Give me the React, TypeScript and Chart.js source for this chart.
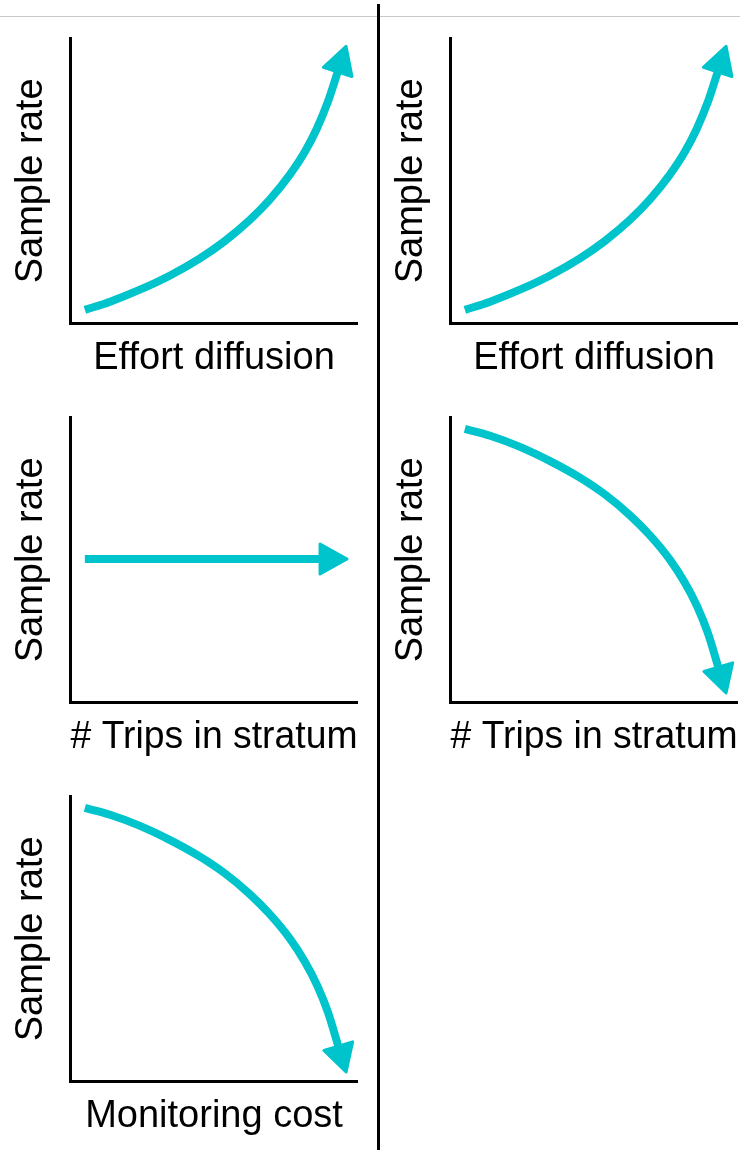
import React, { useEffect, useRef } from "react";
import { Chart, registerables } from "chart.js";

Chart.register(...registerables);

// ---- text ----
const Y_LABEL = "Sample rate";
const X_LABEL_EFFORT = "Effort diffusion";
const X_LABEL_TRIPS = "# Trips in stratum";
const X_LABEL_COST = "Monitoring cost";

// ---- series (axis units 0..10, arbitrary schematic scale) ----
const risingX = [0.5, 1.38, 2.42, 3.47, 4.51, 5.38, 6.25, 6.95, 7.65, 8.17, 8.59, 8.97, 9.32];
const risingY = [0.47, 0.76, 1.18, 1.68, 2.28, 2.89, 3.63, 4.35, 5.23, 6.03, 6.85, 7.78, 8.86];

const flatX = [0.5, 8.73];
const flatY = [5.03, 5.03];

const fallingX = [0.5, 1.38, 2.42, 3.47, 4.51, 5.38, 6.25, 6.95, 7.65, 8.17, 8.59, 8.97, 9.34];
const fallingY = [9.6, 9.36, 8.97, 8.47, 7.89, 7.3, 6.57, 5.86, 5.0, 4.19, 3.38, 2.43, 1.2];

const AXIS_MIN = 0;
const AXIS_MAX = 10;

const CYAN = "#00C4CC";
const FONT = "'Liberation Sans', Arial, Helvetica, sans-serif";

const arrowHeadPlugin = {
  id: "arrowHead",
  afterDatasetsDraw(chart: any) {
    const ctx = chart.ctx;
    chart.data.datasets.forEach((ds: any, i: number) => {
      const meta = chart.getDatasetMeta(i);
      const pts = meta.data;
      if (!pts || pts.length < 2) return;
      const last = pts[pts.length - 1];
      const prev = pts[pts.length - 2];
      let dx = last.x - (last.cp1x ?? prev.x);
      let dy = last.y - (last.cp1y ?? prev.y);
      let len = Math.hypot(dx, dy);
      if (!isFinite(len) || len < 0.5) {
        dx = last.x - prev.x;
        dy = last.y - prev.y;
        len = Math.hypot(dx, dy);
      }
      const ux = dx / len;
      const uy = dy / len;
      const nx = -uy;
      const ny = ux;
      const L = 26;
      const W = 30;
      const bx = last.x - ux * 1;
      const by = last.y - uy * 1;
      ctx.save();
      ctx.fillStyle = ds.borderColor;
      ctx.strokeStyle = ds.borderColor;
      ctx.lineWidth = 3;
      ctx.lineJoin = "round";
      ctx.beginPath();
      ctx.moveTo(last.x + ux * L, last.y + uy * L);
      ctx.lineTo(bx + nx * (W / 2), by + ny * (W / 2));
      ctx.lineTo(bx - nx * (W / 2), by - ny * (W / 2));
      ctx.closePath();
      ctx.fill();
      ctx.stroke();
      ctx.restore();
    });
  },
};

function makeConfig(xs: number[], ys: number[], xLabel: string): any {
  const titleFont = { family: FONT, size: 38, weight: "normal" };
  return {
    type: "line",
    data: {
      datasets: [
        {
          data: xs.map((x, i) => ({ x, y: ys[i] })),
          borderColor: CYAN,
          borderWidth: 8,
          borderCapStyle: "butt",
          borderJoinStyle: "round",
          pointRadius: 0,
          pointHoverRadius: 0,
          cubicInterpolationMode: "monotone",
          fill: false,
        },
      ],
    },
    options: {
      animation: false,
      responsive: false,
      devicePixelRatio: 1,
      events: [],
      layout: { padding: { left: 0, top: 21.5, right: 22.5, bottom: 0 } },
      plugins: {
        legend: { display: false },
        tooltip: { enabled: false },
        title: { display: false },
      },
      scales: {
        x: {
          type: "linear",
          min: AXIS_MIN,
          max: AXIS_MAX,
          ticks: { display: false },
          grid: { display: false, drawTicks: false },
          border: { display: true, color: "#000", width: 3 },
          title: {
            display: true,
            text: xLabel,
            color: "#000",
            font: titleFont,
            padding: { top: 0, bottom: 11 },
          },
          afterFit: (s: any) => {
            s.height = 68.7;
          },
        },
        y: {
          type: "linear",
          min: AXIS_MIN,
          max: AXIS_MAX,
          ticks: { display: false },
          grid: { display: false, drawTicks: false },
          border: { display: true, color: "#000", width: 3 },
          title: {
            display: true,
            text: Y_LABEL,
            color: "#000",
            font: titleFont,
            padding: { top: 9, bottom: 0 },
          },
          afterFit: (s: any) => {
            s.width = 70.5;
          },
        },
      },
    },
    plugins: [arrowHeadPlugin],
  };
}

function Panel(props: { left: number; top: number; xs: number[]; ys: number[]; xLabel: string }) {
  const ref = useRef<HTMLCanvasElement | null>(null);
  useEffect(() => {
    if (!ref.current) return;
    const chart = new Chart(ref.current, makeConfig(props.xs, props.ys, props.xLabel));
    return () => chart.destroy();
  }, []);
  return (
    <canvas
      ref={ref}
      width={380}
      height={375}
      style={{ position: "absolute", left: props.left, top: props.top, width: 380, height: 375 }}
    />
  );
}

export default function App() {
  return (
    <div
      style={{
        position: "absolute",
        left: 0,
        top: 0,
        width: 740,
        height: 1150,
        background: "#fff",
        overflow: "hidden",
      }}
    >
      <div style={{ position: "absolute", left: 0, top: 16, width: 740, height: 1, background: "#c8c8c8" }} />
      <Panel left={0} top={17} xs={risingX} ys={risingY} xLabel={X_LABEL_EFFORT} />
      <Panel left={380} top={17} xs={risingX} ys={risingY} xLabel={X_LABEL_EFFORT} />
      <Panel left={0} top={396} xs={flatX} ys={flatY} xLabel={X_LABEL_TRIPS} />
      <Panel left={380} top={396} xs={fallingX} ys={fallingY} xLabel={X_LABEL_TRIPS} />
      <Panel left={0} top={775} xs={fallingX} ys={fallingY} xLabel={X_LABEL_COST} />
      <div style={{ position: "absolute", left: 377, top: 4, width: 3, height: 1146, background: "#000", zIndex: 2 }} />
    </div>
  );
}
